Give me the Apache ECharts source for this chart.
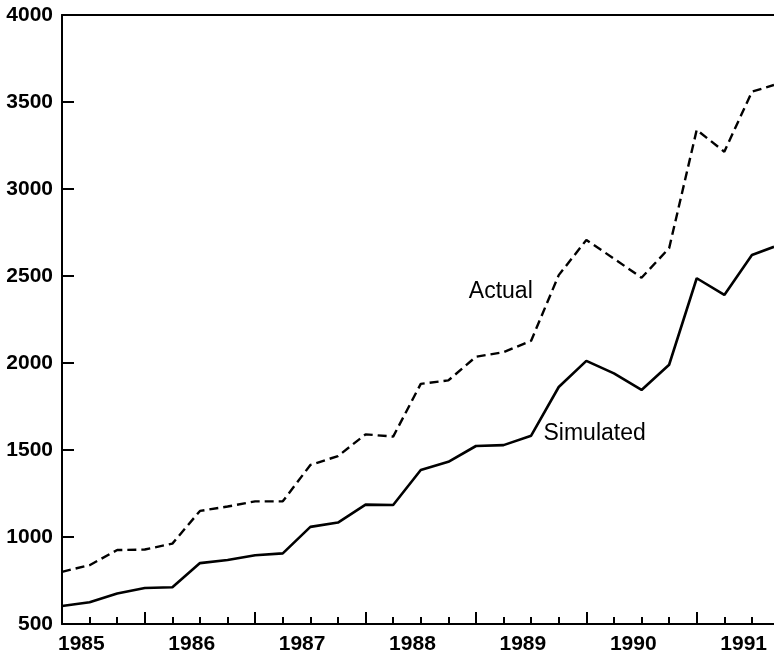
<!DOCTYPE html>
<html>
<head>
<meta charset="utf-8">
<script src="https://cdn.jsdelivr.net/npm/echarts@6/dist/echarts.min.js"></script>
<style>
html,body{margin:0;padding:0;background:#fff;}
#c{width:774px;height:661px;}
</style>
</head>
<body>
<div id="c"></div>
<script>
// x = quarter index from first observation (one point per quarter)
var quarters = [0,1,2,3,4,5,6,7,8,9,10,11,12,13,14,15,16,17,18,19,20,21,22,23,24,25,25.8];
var actual = [800,838,925,928,962,1150,1175,1205,1205,1414,1465,1590,1577,1880,1900,2036,2062,2128,2505,2707,2600,2490,2660,3340,3214,3559,3598];
var simulated = [603,625,675,707,711,850,868,895,906,1058,1083,1186,1184,1385,1432,1523,1528,1582,1862,2012,1940,1845,1990,2487,2391,2621,2668];
var yearLabels = ['1985','1986','1987','1988','1989','1990','1991'];
var yTicks = [500,1000,1500,2000,2500,3000,3500,4000];

var firstLabelQ = 0.7;            // where the "1985" label sits on the quarter axis
var yearTickQ = [3,7,11,15,19,23]; // long ticks
var labelQ = yearLabels.map(function(_, i){ return firstLabelQ + 4*i; });
var shortTickQ = [];
for (var q = 1; q <= 25; q++) { if (yearTickQ.indexOf(q) < 0) shortTickQ.push(q); }

function pairs(xs, ys){ return xs.map(function(x,i){ return [x, ys[i]]; }); }

var FONT = 'Liberation Sans';
var chart = echarts.init(document.getElementById('c'), null, {renderer:'canvas'});
var axisLine = {show:true, lineStyle:{color:'#000', width:2}};
chart.setOption({
  animation:false,
  backgroundColor:'#fff',
  grid:{left:62, right:0, top:15, bottom:37},
  xAxis:[
    {type:'value', min:0, max:25.8, position:'bottom',
     axisLine:axisLine, splitLine:{show:false},
     axisTick:{show:true, inside:true, length:12, customValues:yearTickQ, lineStyle:{color:'#000', width:2}},
     axisLabel:{show:true, customValues:labelQ, margin:10, color:'#000', fontFamily:FONT, fontSize:21, fontWeight:'bold',
       formatter:function(v){ var i = Math.round((v-firstLabelQ)/4); return yearLabels[i] || ''; }}
    },
    {type:'value', min:0, max:25.8, position:'bottom',
     axisLine:{show:false}, splitLine:{show:false}, axisLabel:{show:false},
     axisTick:{show:true, inside:true, length:7, customValues:shortTickQ, lineStyle:{color:'#000', width:2}}
    },
    {type:'value', min:0, max:25.8, position:'top',
     axisLine:axisLine, splitLine:{show:false}, axisLabel:{show:false}, axisTick:{show:false}
    }
  ],
  yAxis:{type:'value', min:yTicks[0], max:yTicks[yTicks.length-1], interval:500,
    axisLine:axisLine, splitLine:{show:false},
    axisTick:{show:true, inside:true, length:12, lineStyle:{color:'#000', width:2}},
    axisLabel:{margin:9, color:'#000', fontFamily:FONT, fontSize:21, fontWeight:'bold',
      formatter:function(v){ return String(v); }}
  },
  series:[
    {name:'Actual', type:'line', xAxisIndex:0, data:pairs(quarters, actual), symbol:'none',
     lineStyle:{color:'#000', width:2.4, type:[9,5]}},
    {name:'Simulated', type:'line', xAxisIndex:0, data:pairs(quarters, simulated), symbol:'none',
     lineStyle:{color:'#000', width:2.6}}
  ]
});

var labelSpots = [
  {text:'Actual', q:15.9, v:2408},
  {text:'Simulated', q:19.3, v:1592}
];
chart.setOption({
  graphic: labelSpots.map(function(s){
    var p = chart.convertToPixel({xAxisIndex:0, yAxisIndex:0}, [s.q, s.v]);
    return {type:'text', x:p[0], y:p[1],
      style:{text:s.text, fill:'#000', font:'23px "' + FONT + '"', textAlign:'center', textVerticalAlign:'middle'}};
  })
});
</script>
</body>
</html>
